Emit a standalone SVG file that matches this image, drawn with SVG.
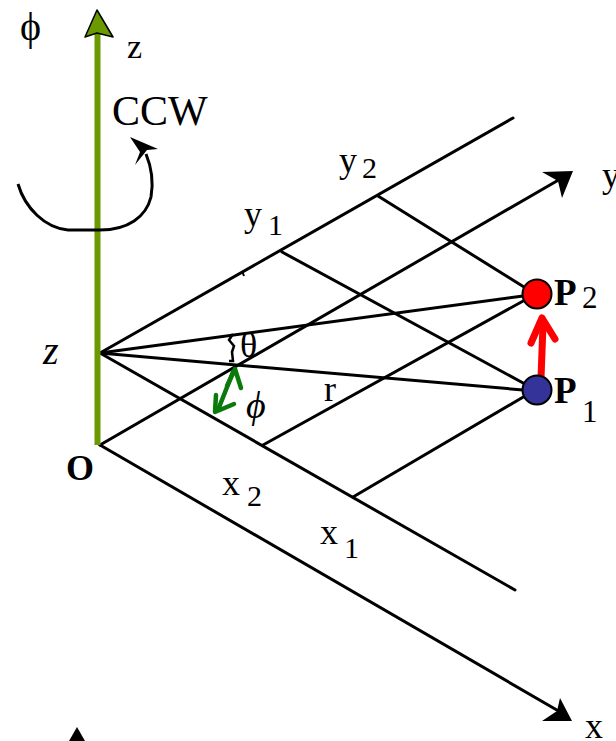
<svg xmlns="http://www.w3.org/2000/svg" width="616" height="741" viewBox="0 0 616 741">
<style>
.ln{stroke:#000;stroke-width:3;fill:none;stroke-linecap:round}
.t{font-family:"Liberation Serif","Times New Roman",serif;fill:#000}
</style>
<rect width="616" height="741" fill="#fff"/>
<g id="connectors">
<line class="ln" x1="100" y1="445" x2="562" y2="713"/>
<polygon points="572,721 542,721 557,711 560,698" fill="#000"/>
<line class="ln" x1="100" y1="445" x2="562" y2="178"/>
<polygon points="573,171 542,172 558,181 562,198" fill="#000"/>
<line class="ln" x1="100" y1="353" x2="513" y2="118"/>
<line class="ln" x1="100" y1="353" x2="515" y2="590"/>
<line class="ln" x1="100" y1="353" x2="523" y2="296"/>
<line class="ln" x1="100" y1="353" x2="523" y2="390"/>
<line class="ln" x1="378" y1="196" x2="524" y2="287"/>
<line class="ln" x1="282" y1="252" x2="525" y2="384"/>
<line class="ln" x1="263" y1="445" x2="525" y2="300"/>
<line class="ln" x1="353" y1="497" x2="525" y2="396"/>
<line x1="242" y1="271" x2="244" y2="276" stroke="#000" stroke-width="2"/>
<path d="M233,334 L229,340 L234,346 L232,352 L233,361 L229,361" stroke="#000" stroke-width="2.5" fill="none"/>
<line x1="97.5" y1="445" x2="97.5" y2="30" stroke="#6a9a00" stroke-width="6"/>
<polygon points="97,10 113,37 97,33 85,37" fill="#6a9a00" stroke="#000" stroke-width="1.5" stroke-linejoin="round"/>
<path d="M18,184 C25,208 45,228 68,230 L100,230 C128,230 146,217 151,197 C154,180 151,166 146,154" stroke="#000" stroke-width="3" fill="none"/>
<polygon points="130,137 158,149 147,150 135,165 140,152" fill="#000"/>
<g stroke="#0a7a0a" stroke-width="4.5" fill="none" stroke-linecap="round" stroke-linejoin="round">
<line x1="233" y1="372" x2="218" y2="410"/>
<polyline points="227,386 235,369 241,388"/>
<polyline points="216,395 215,412 234,404"/>
</g>
<g stroke="#f00" stroke-width="7" fill="none" stroke-linecap="round" stroke-linejoin="round">
<line x1="541" y1="378" x2="543" y2="325"/>
<polyline points="531,343 542,318 555,339"/>
</g>
</g>
<g id="P2">
<circle cx="537" cy="294" r="14.5" fill="#f00" stroke="#000" stroke-width="2"/>
<text class="t" x="554" y="305" font-size="37" font-weight="bold">P</text>
<text class="t" x="582" y="308" font-size="31">2</text>
</g>
<g id="P1">
<circle cx="537" cy="390" r="14.5" fill="#333399" stroke="#000" stroke-width="2"/>
<text class="t" x="554" y="403" font-size="37" font-weight="bold">P</text>
<text class="t" x="582" y="422" font-size="31">1</text>
</g>
<g id="labels">
<text class="t" x="20" y="40" font-size="40">ϕ</text>
<text class="t" x="127" y="58" font-size="34">z</text>
<text class="t" x="112" y="125" font-size="42">CCW</text>
<text class="t" x="339" y="172" font-size="36">y</text>
<text class="t" x="362" y="178" font-size="30">2</text>
<text class="t" x="244" y="226" font-size="36">y</text>
<text class="t" x="268" y="235" font-size="30">1</text>
<text class="t" x="602" y="187" font-size="36">y</text>
<text class="t" x="43" y="364" font-size="40" font-style="italic">z</text>
<text class="t" x="66" y="480" font-size="36" font-weight="bold">O</text>
<text class="t" x="240" y="357" font-size="36">θ</text>
<text class="t" x="246" y="418" font-size="38" font-style="italic">ϕ</text>
<text class="t" x="324" y="401" font-size="36">r</text>
<text class="t" x="222" y="495" font-size="36">x</text>
<text class="t" x="247" y="506" font-size="30">2</text>
<text class="t" x="320" y="544" font-size="36">x</text>
<text class="t" x="344" y="558" font-size="30">1</text>
<text class="t" x="585" y="738" font-size="36">x</text>
<polygon points="77,727 69,741 85,741" fill="#000"/>
</g>
</svg>
